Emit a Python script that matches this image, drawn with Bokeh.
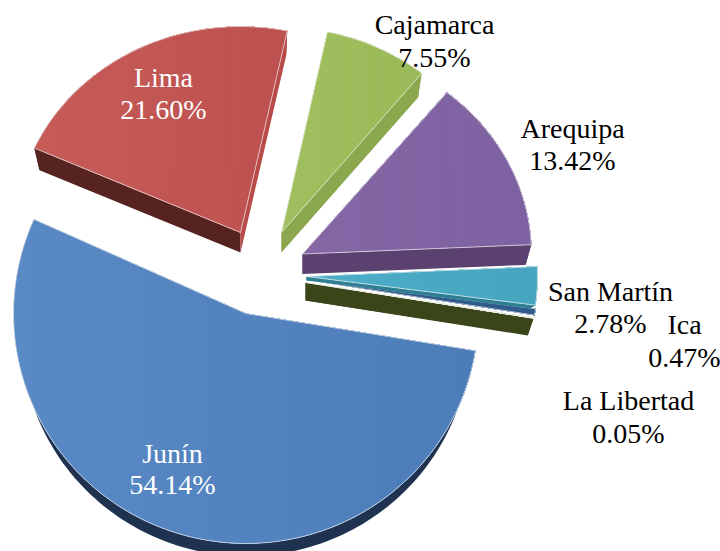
import math
from bokeh.plotting import figure
from bokeh.models import Range1d, ColumnDataSource
from bokeh.core.properties import value
from bokeh.embed import file_html
from bokeh.resources import INLINE

names = ["Junín", "Lima", "Cajamarca", "Arequipa", "San Martín", "Ica", "La Libertad"]
shares = [54.14, 21.60, 7.55, 13.42, 2.78, 0.47, 0.05]

# layout of the exploded slices, in picture pixels
START = 9.3
apex = [(245.5, 313), (240, 232), (281, 232), (302, 253.5), (306, 276), (306, 279.5), (305, 282)]
radii = [(232.5, 230), (226, 206), (222, 205), (229, 208), (231, 222), (231, 222), (231, 222)]
depth = [20, 20, 20, 20, 4, 0, 18]
inset = [0.968, 0.975, 0.975, 0.975, 0.975, 0.975, 0.975]
top_left = ["#5A8AC6", "#C65B58", "#A0BF5E", "#8567A6", "#4DAEC9", "#2F5A8C", "#D8E0C8"]
top_right = ["#4C7DB8", "#BD514F", "#9ABA58", "#7E61A0", "#46A5BF", "#2F5A8C", "#D8E0C8"]
side_colors = ["#1F3350", "#572320", "#8BA84F", "#5A416F", "#2F7F92", "#2F5A8C", "#3A451A"]
end_face = {1: "#B84A48"}
draw_order = [1, 2, 3, 6, 5, 4, 0]
label_pos = [(172, 453, 484), (163, 77, 109), (434, 24, 57), (572, 128, 160),
             (610, 291, 323), (684, 324, 357), (628, 400, 433)]
label_color = ["white", "white", "black", "black", "black", "black", "black"]

p = figure(width=720, height=551, x_range=Range1d(0, 720), y_range=Range1d(551, 0),
           x_axis_type=None, y_axis_type=None, toolbar_location=None,
           output_backend="svg", min_border=0, outline_line_color=None)
p.grid.visible = False

def arc(cx, cy, rx, ry, a0, a1):
    n = max(2, int(abs(a1 - a0) / 1.5) + 2)
    out = []
    for i in range(n):
        t = math.radians(a0 + (a1 - a0) * i / (n - 1))
        out.append((cx + rx * math.cos(t), cy + ry * math.sin(t)))
    return out

def clip_right(poly, xc):
    out = []
    for i, a in enumerate(poly):
        b = poly[(i + 1) % len(poly)]
        if a[0] >= xc:
            out.append(a)
        if (a[0] - xc) * (b[0] - xc) < 0:
            f = (xc - a[0]) / (b[0] - a[0])
            out.append((xc, a[1] + f * (b[1] - a[1])))
    return out

def mix(c0, c1, f):
    a = [int(c0[i:i + 2], 16) for i in (1, 3, 5)]
    b = [int(c1[i:i + 2], 16) for i in (1, 3, 5)]
    return "#%02x%02x%02x" % tuple(round(u + (v - u) * f) for u, v in zip(a, b))

total = sum(shares)
angles = []
acc = START
for v in shares:
    a1 = acc + v / total * 360
    angles.append((acc, a1))
    acc = a1

def fill(polys, colors):
    src = ColumnDataSource(dict(xs=[[q[0] for q in g] for g in polys],
                                ys=[[q[1] for q in g] for g in polys],
                                c=colors))
    p.patches("xs", "ys", source=src, fill_color="c", line_color=None)

for i in draw_order:
    a0, a1 = angles[i]
    ax, ay = apex[i]
    rx, ry = radii[i]
    d = depth[i]
    top_arc = arc(ax, ay, rx, ry, a0, a1)
    top = [(ax, ay)] + top_arc
    if d:
        low_arc = arc(ax, ay + d, rx * inset[i], ry * inset[i], a0, a1)
        band = top_arc + low_arc[::-1]
        start_q = [(ax, ay), top_arc[0], low_arc[0], (ax, ay + d)]
        end_q = [(ax, ay), top_arc[-1], low_arc[-1], (ax, ay + d)]
        fill([band, start_q], [side_colors[i]] * 2)
        fill([end_q], [end_face.get(i, side_colors[i])])
    # top surface: left-to-right shading, each band painted over the previous one
    xmin = min(q[0] for q in top)
    xmax = max(q[0] for q in top)
    steps = 24
    polys, cols = [], []
    for k in range(steps):
        xc = xmin + (xmax - xmin) * k / steps
        g = top if k == 0 else clip_right(top, xc)
        if len(g) >= 3:
            polys.append(g)
            cols.append(mix(top_left[i], top_right[i], k / (steps - 1)))
    fill(polys, cols)
    outline = top + [top[0]]
    p.line([q[0] for q in outline], [q[1] for q in outline],
           line_color="#f2f2f2", line_alpha=0.7, line_width=1)

for i, name in enumerate(names):
    x, y0, y1 = label_pos[i]
    p.text([x, x], [y0, y1], text=[name, f"{shares[i]:.2f}%"],
           text_font=value("Liberation Serif"), text_font_size=value("28px"),
           text_align="center", text_baseline="middle", text_color=label_color[i])

open("out.html", "w").write(file_html(p, INLINE))
